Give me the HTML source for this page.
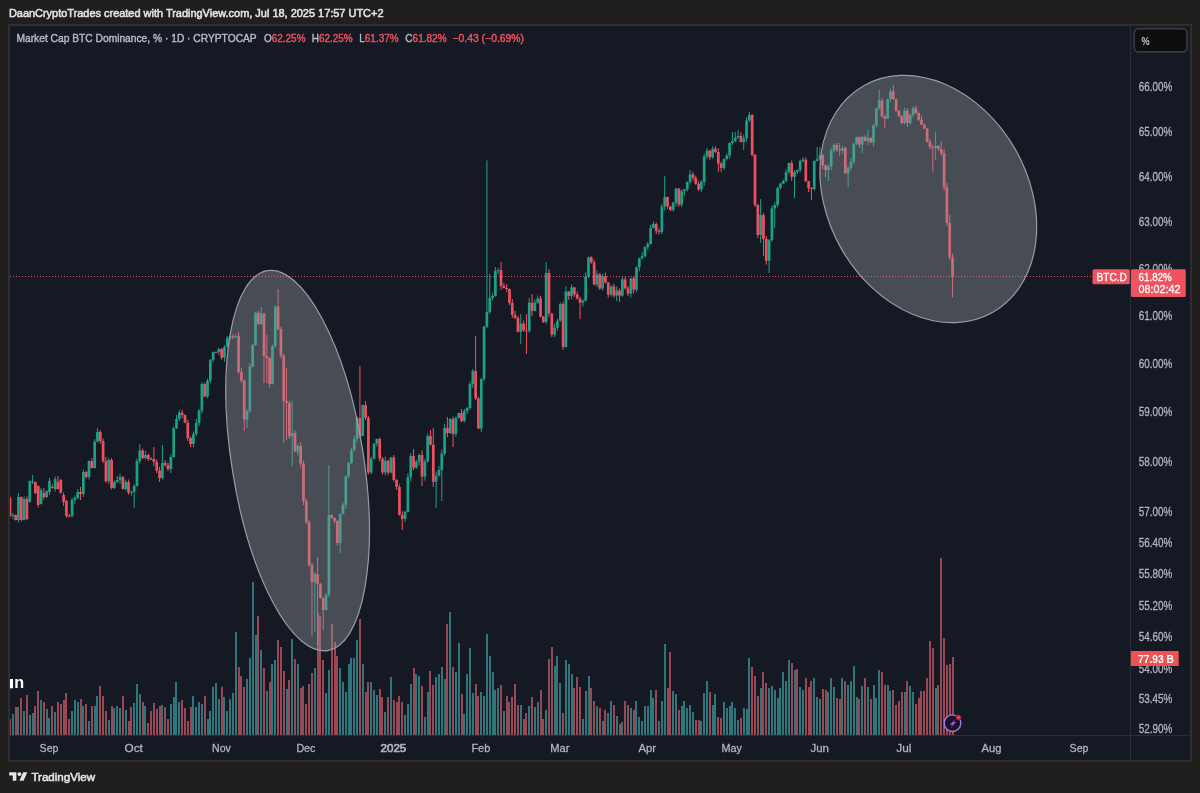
<!DOCTYPE html>
<html><head><meta charset="utf-8"><title>BTC.D</title>
<style>html,body{margin:0;padding:0;background:#201f1d;}body{width:1200px;height:793px;overflow:hidden;position:relative;font-family:'Liberation Sans',sans-serif}</style>
</head><body>
<svg width="1200" height="793" viewBox="0 0 1200 793" style="position:absolute;left:0;top:0;will-change:transform;font-family:'Liberation Sans',sans-serif"><rect x="0" y="0" width="1200" height="793" fill="#201f1d"/><rect x="8" y="24" width="1184" height="738" fill="#2f2f32"/><rect x="10" y="26" width="1180" height="734" fill="#151924"/><defs><clipPath id="pc"><rect x="10" y="26" width="1120" height="709"/></clipPath></defs><g clip-path="url(#pc)"><rect x="9" y="719" width="2" height="16" fill="#984854"/><rect x="12" y="714" width="2" height="21" fill="#2f7579"/><rect x="15" y="707" width="2" height="28" fill="#984854"/><rect x="17" y="707" width="2" height="28" fill="#2f7579"/><rect x="20" y="698" width="2" height="37" fill="#984854"/><rect x="23" y="711" width="2" height="24" fill="#2f7579"/><rect x="26" y="695" width="2" height="40" fill="#984854"/><rect x="29" y="715" width="2" height="20" fill="#2f7579"/><rect x="32" y="713" width="2" height="22" fill="#2f7579"/><rect x="34" y="706" width="2" height="29" fill="#984854"/><rect x="37" y="691" width="2" height="44" fill="#984854"/><rect x="40" y="700" width="2" height="35" fill="#2f7579"/><rect x="43" y="702" width="2" height="33" fill="#984854"/><rect x="46" y="709" width="2" height="26" fill="#2f7579"/><rect x="48" y="718" width="2" height="17" fill="#2f7579"/><rect x="51" y="706" width="2" height="29" fill="#984854"/><rect x="54" y="712" width="2" height="23" fill="#2f7579"/><rect x="57" y="702" width="2" height="33" fill="#984854"/><rect x="60" y="704" width="2" height="31" fill="#984854"/><rect x="63" y="700" width="2" height="35" fill="#984854"/><rect x="65" y="693" width="2" height="42" fill="#984854"/><rect x="68" y="719" width="2" height="16" fill="#984854"/><rect x="71" y="711" width="2" height="24" fill="#2f7579"/><rect x="74" y="700" width="2" height="35" fill="#2f7579"/><rect x="77" y="702" width="2" height="33" fill="#2f7579"/><rect x="80" y="699" width="2" height="36" fill="#984854"/><rect x="82" y="706" width="2" height="29" fill="#2f7579"/><rect x="85" y="704" width="2" height="31" fill="#984854"/><rect x="88" y="721" width="2" height="14" fill="#2f7579"/><rect x="91" y="706" width="2" height="29" fill="#984854"/><rect x="94" y="706" width="2" height="29" fill="#2f7579"/><rect x="96" y="696" width="2" height="39" fill="#2f7579"/><rect x="99" y="686" width="2" height="49" fill="#984854"/><rect x="102" y="696" width="2" height="39" fill="#984854"/><rect x="105" y="711" width="2" height="24" fill="#984854"/><rect x="108" y="720" width="2" height="15" fill="#2f7579"/><rect x="111" y="706" width="2" height="29" fill="#984854"/><rect x="113" y="708" width="2" height="27" fill="#2f7579"/><rect x="116" y="706" width="2" height="29" fill="#2f7579"/><rect x="119" y="708" width="2" height="27" fill="#2f7579"/><rect x="122" y="696" width="2" height="39" fill="#984854"/><rect x="125" y="710" width="2" height="25" fill="#2f7579"/><rect x="128" y="721" width="2" height="14" fill="#984854"/><rect x="130" y="707" width="2" height="28" fill="#984854"/><rect x="133" y="703" width="2" height="32" fill="#2f7579"/><rect x="136" y="684" width="2" height="51" fill="#2f7579"/><rect x="139" y="694" width="2" height="41" fill="#2f7579"/><rect x="142" y="702" width="2" height="33" fill="#984854"/><rect x="144" y="706" width="2" height="29" fill="#2f7579"/><rect x="147" y="723" width="2" height="12" fill="#984854"/><rect x="150" y="711" width="2" height="24" fill="#984854"/><rect x="153" y="703" width="2" height="32" fill="#984854"/><rect x="156" y="709" width="2" height="26" fill="#984854"/><rect x="159" y="706" width="2" height="29" fill="#984854"/><rect x="161" y="705" width="2" height="30" fill="#2f7579"/><rect x="164" y="707" width="2" height="28" fill="#984854"/><rect x="167" y="719" width="2" height="16" fill="#984854"/><rect x="170" y="704" width="2" height="31" fill="#2f7579"/><rect x="173" y="697" width="2" height="38" fill="#2f7579"/><rect x="175" y="682" width="2" height="53" fill="#2f7579"/><rect x="178" y="702" width="2" height="33" fill="#2f7579"/><rect x="181" y="700" width="2" height="35" fill="#984854"/><rect x="184" y="708" width="2" height="27" fill="#984854"/><rect x="187" y="721" width="2" height="14" fill="#984854"/><rect x="190" y="707" width="2" height="28" fill="#984854"/><rect x="192" y="696" width="2" height="39" fill="#2f7579"/><rect x="195" y="707" width="2" height="28" fill="#2f7579"/><rect x="198" y="702" width="2" height="33" fill="#2f7579"/><rect x="201" y="704" width="2" height="31" fill="#2f7579"/><rect x="204" y="696" width="2" height="39" fill="#984854"/><rect x="207" y="719" width="2" height="16" fill="#2f7579"/><rect x="209" y="711" width="2" height="24" fill="#2f7579"/><rect x="212" y="687" width="2" height="48" fill="#2f7579"/><rect x="215" y="683" width="2" height="52" fill="#2f7579"/><rect x="218" y="699" width="2" height="36" fill="#2f7579"/><rect x="221" y="687" width="2" height="48" fill="#984854"/><rect x="223" y="697" width="2" height="38" fill="#2f7579"/><rect x="226" y="711" width="2" height="24" fill="#2f7579"/><rect x="229" y="699" width="2" height="36" fill="#2f7579"/><rect x="232" y="693" width="2" height="42" fill="#2f7579"/><rect x="235" y="632" width="2" height="103" fill="#2f7579"/><rect x="238" y="667" width="2" height="68" fill="#984854"/><rect x="240" y="676" width="2" height="59" fill="#984854"/><rect x="243" y="687" width="2" height="48" fill="#984854"/><rect x="246" y="679" width="2" height="56" fill="#2f7579"/><rect x="249" y="658" width="2" height="77" fill="#2f7579"/><rect x="252" y="582" width="2" height="153" fill="#2f7579"/><rect x="255" y="635" width="2" height="100" fill="#2f7579"/><rect x="257" y="616" width="2" height="119" fill="#984854"/><rect x="260" y="650" width="2" height="85" fill="#2f7579"/><rect x="263" y="668" width="2" height="67" fill="#984854"/><rect x="266" y="691" width="2" height="44" fill="#2f7579"/><rect x="269" y="682" width="2" height="53" fill="#984854"/><rect x="271" y="664" width="2" height="71" fill="#2f7579"/><rect x="274" y="660" width="2" height="75" fill="#2f7579"/><rect x="277" y="640" width="2" height="95" fill="#984854"/><rect x="280" y="647" width="2" height="88" fill="#984854"/><rect x="283" y="671" width="2" height="64" fill="#984854"/><rect x="286" y="689" width="2" height="46" fill="#2f7579"/><rect x="288" y="680" width="2" height="55" fill="#984854"/><rect x="291" y="639" width="2" height="96" fill="#2f7579"/><rect x="294" y="659" width="2" height="76" fill="#984854"/><rect x="297" y="664" width="2" height="71" fill="#2f7579"/><rect x="300" y="688" width="2" height="47" fill="#984854"/><rect x="302" y="686" width="2" height="49" fill="#984854"/><rect x="305" y="704" width="2" height="31" fill="#984854"/><rect x="308" y="684" width="2" height="51" fill="#984854"/><rect x="311" y="673" width="2" height="62" fill="#984854"/><rect x="314" y="668" width="2" height="67" fill="#2f7579"/><rect x="317" y="613" width="2" height="122" fill="#984854"/><rect x="319" y="616" width="2" height="119" fill="#984854"/><rect x="322" y="660" width="2" height="75" fill="#984854"/><rect x="325" y="693" width="2" height="42" fill="#2f7579"/><rect x="328" y="670" width="2" height="65" fill="#2f7579"/><rect x="331" y="624" width="2" height="111" fill="#984854"/><rect x="334" y="642" width="2" height="93" fill="#984854"/><rect x="336" y="656" width="2" height="79" fill="#984854"/><rect x="339" y="668" width="2" height="67" fill="#2f7579"/><rect x="342" y="682" width="2" height="53" fill="#2f7579"/><rect x="345" y="692" width="2" height="43" fill="#2f7579"/><rect x="348" y="664" width="2" height="71" fill="#2f7579"/><rect x="350" y="658" width="2" height="77" fill="#2f7579"/><rect x="353" y="658" width="2" height="77" fill="#2f7579"/><rect x="356" y="640" width="2" height="95" fill="#2f7579"/><rect x="359" y="619" width="2" height="116" fill="#984854"/><rect x="362" y="664" width="2" height="71" fill="#2f7579"/><rect x="365" y="692" width="2" height="43" fill="#984854"/><rect x="367" y="682" width="2" height="53" fill="#984854"/><rect x="370" y="682" width="2" height="53" fill="#2f7579"/><rect x="373" y="690" width="2" height="45" fill="#2f7579"/><rect x="376" y="695" width="2" height="40" fill="#2f7579"/><rect x="379" y="689" width="2" height="46" fill="#984854"/><rect x="381" y="697" width="2" height="38" fill="#984854"/><rect x="384" y="712" width="2" height="23" fill="#2f7579"/><rect x="387" y="697" width="2" height="38" fill="#984854"/><rect x="390" y="677" width="2" height="58" fill="#2f7579"/><rect x="393" y="700" width="2" height="35" fill="#984854"/><rect x="396" y="702" width="2" height="33" fill="#984854"/><rect x="398" y="696" width="2" height="39" fill="#984854"/><rect x="401" y="702" width="2" height="33" fill="#984854"/><rect x="404" y="715" width="2" height="20" fill="#2f7579"/><rect x="407" y="704" width="2" height="31" fill="#2f7579"/><rect x="410" y="684" width="2" height="51" fill="#2f7579"/><rect x="413" y="668" width="2" height="67" fill="#984854"/><rect x="415" y="674" width="2" height="61" fill="#2f7579"/><rect x="418" y="676" width="2" height="59" fill="#2f7579"/><rect x="421" y="686" width="2" height="49" fill="#984854"/><rect x="424" y="717" width="2" height="18" fill="#2f7579"/><rect x="427" y="692" width="2" height="43" fill="#2f7579"/><rect x="429" y="671" width="2" height="64" fill="#984854"/><rect x="432" y="685" width="2" height="50" fill="#984854"/><rect x="435" y="677" width="2" height="58" fill="#2f7579"/><rect x="438" y="674" width="2" height="61" fill="#2f7579"/><rect x="441" y="667" width="2" height="68" fill="#2f7579"/><rect x="444" y="679" width="2" height="56" fill="#2f7579"/><rect x="446" y="624" width="2" height="111" fill="#984854"/><rect x="449" y="612" width="2" height="123" fill="#2f7579"/><rect x="452" y="667" width="2" height="68" fill="#984854"/><rect x="455" y="672" width="2" height="63" fill="#2f7579"/><rect x="458" y="643" width="2" height="92" fill="#2f7579"/><rect x="461" y="694" width="2" height="41" fill="#984854"/><rect x="463" y="714" width="2" height="21" fill="#2f7579"/><rect x="466" y="674" width="2" height="61" fill="#2f7579"/><rect x="469" y="648" width="2" height="87" fill="#2f7579"/><rect x="472" y="693" width="2" height="42" fill="#2f7579"/><rect x="475" y="684" width="2" height="51" fill="#984854"/><rect x="477" y="696" width="2" height="39" fill="#984854"/><rect x="480" y="692" width="2" height="43" fill="#2f7579"/><rect x="483" y="696" width="2" height="39" fill="#2f7579"/><rect x="486" y="634" width="2" height="101" fill="#2f7579"/><rect x="489" y="656" width="2" height="79" fill="#2f7579"/><rect x="492" y="672" width="2" height="63" fill="#2f7579"/><rect x="494" y="690" width="2" height="45" fill="#2f7579"/><rect x="497" y="688" width="2" height="47" fill="#2f7579"/><rect x="500" y="685" width="2" height="50" fill="#984854"/><rect x="503" y="711" width="2" height="24" fill="#2f7579"/><rect x="506" y="696" width="2" height="39" fill="#984854"/><rect x="508" y="702" width="2" height="33" fill="#984854"/><rect x="511" y="697" width="2" height="38" fill="#984854"/><rect x="514" y="684" width="2" height="51" fill="#984854"/><rect x="517" y="705" width="2" height="30" fill="#984854"/><rect x="520" y="705" width="2" height="30" fill="#2f7579"/><rect x="523" y="719" width="2" height="16" fill="#984854"/><rect x="525" y="713" width="2" height="22" fill="#984854"/><rect x="528" y="706" width="2" height="29" fill="#2f7579"/><rect x="531" y="697" width="2" height="38" fill="#984854"/><rect x="534" y="707" width="2" height="28" fill="#2f7579"/><rect x="537" y="702" width="2" height="33" fill="#2f7579"/><rect x="540" y="690" width="2" height="45" fill="#984854"/><rect x="542" y="719" width="2" height="16" fill="#984854"/><rect x="545" y="710" width="2" height="25" fill="#2f7579"/><rect x="548" y="659" width="2" height="76" fill="#984854"/><rect x="551" y="647" width="2" height="88" fill="#984854"/><rect x="554" y="666" width="2" height="69" fill="#2f7579"/><rect x="556" y="656" width="2" height="79" fill="#2f7579"/><rect x="559" y="683" width="2" height="52" fill="#2f7579"/><rect x="562" y="713" width="2" height="22" fill="#984854"/><rect x="565" y="660" width="2" height="75" fill="#2f7579"/><rect x="568" y="664" width="2" height="71" fill="#2f7579"/><rect x="571" y="674" width="2" height="61" fill="#2f7579"/><rect x="573" y="688" width="2" height="47" fill="#984854"/><rect x="576" y="677" width="2" height="58" fill="#984854"/><rect x="579" y="687" width="2" height="48" fill="#984854"/><rect x="582" y="719" width="2" height="16" fill="#2f7579"/><rect x="585" y="691" width="2" height="44" fill="#2f7579"/><rect x="588" y="676" width="2" height="59" fill="#2f7579"/><rect x="590" y="688" width="2" height="47" fill="#984854"/><rect x="593" y="701" width="2" height="34" fill="#984854"/><rect x="596" y="706" width="2" height="29" fill="#2f7579"/><rect x="599" y="708" width="2" height="27" fill="#984854"/><rect x="602" y="721" width="2" height="14" fill="#2f7579"/><rect x="604" y="710" width="2" height="25" fill="#984854"/><rect x="607" y="713" width="2" height="22" fill="#2f7579"/><rect x="610" y="701" width="2" height="34" fill="#2f7579"/><rect x="613" y="705" width="2" height="30" fill="#984854"/><rect x="616" y="716" width="2" height="19" fill="#2f7579"/><rect x="619" y="724" width="2" height="11" fill="#984854"/><rect x="621" y="722" width="2" height="13" fill="#2f7579"/><rect x="624" y="701" width="2" height="34" fill="#984854"/><rect x="627" y="705" width="2" height="30" fill="#984854"/><rect x="630" y="708" width="2" height="27" fill="#2f7579"/><rect x="633" y="710" width="2" height="25" fill="#984854"/><rect x="635" y="701" width="2" height="34" fill="#2f7579"/><rect x="638" y="717" width="2" height="18" fill="#2f7579"/><rect x="641" y="721" width="2" height="14" fill="#2f7579"/><rect x="644" y="706" width="2" height="29" fill="#2f7579"/><rect x="647" y="706" width="2" height="29" fill="#2f7579"/><rect x="650" y="690" width="2" height="45" fill="#2f7579"/><rect x="652" y="698" width="2" height="37" fill="#2f7579"/><rect x="655" y="690" width="2" height="45" fill="#984854"/><rect x="658" y="721" width="2" height="14" fill="#2f7579"/><rect x="661" y="701" width="2" height="34" fill="#2f7579"/><rect x="664" y="644" width="2" height="91" fill="#2f7579"/><rect x="667" y="688" width="2" height="47" fill="#984854"/><rect x="669" y="652" width="2" height="83" fill="#984854"/><rect x="672" y="691" width="2" height="44" fill="#2f7579"/><rect x="675" y="694" width="2" height="41" fill="#2f7579"/><rect x="678" y="710" width="2" height="25" fill="#984854"/><rect x="681" y="706" width="2" height="29" fill="#2f7579"/><rect x="683" y="701" width="2" height="34" fill="#2f7579"/><rect x="686" y="708" width="2" height="27" fill="#2f7579"/><rect x="689" y="705" width="2" height="30" fill="#2f7579"/><rect x="692" y="712" width="2" height="23" fill="#2f7579"/><rect x="695" y="720" width="2" height="15" fill="#984854"/><rect x="698" y="720" width="2" height="15" fill="#984854"/><rect x="700" y="721" width="2" height="14" fill="#2f7579"/><rect x="703" y="693" width="2" height="42" fill="#2f7579"/><rect x="706" y="681" width="2" height="54" fill="#2f7579"/><rect x="709" y="692" width="2" height="43" fill="#984854"/><rect x="712" y="705" width="2" height="30" fill="#2f7579"/><rect x="714" y="694" width="2" height="41" fill="#2f7579"/><rect x="717" y="717" width="2" height="18" fill="#984854"/><rect x="720" y="718" width="2" height="17" fill="#984854"/><rect x="723" y="702" width="2" height="33" fill="#2f7579"/><rect x="726" y="708" width="2" height="27" fill="#2f7579"/><rect x="729" y="706" width="2" height="29" fill="#2f7579"/><rect x="731" y="702" width="2" height="33" fill="#2f7579"/><rect x="734" y="708" width="2" height="27" fill="#2f7579"/><rect x="737" y="720" width="2" height="15" fill="#2f7579"/><rect x="740" y="718" width="2" height="17" fill="#984854"/><rect x="743" y="708" width="2" height="27" fill="#2f7579"/><rect x="746" y="709" width="2" height="26" fill="#2f7579"/><rect x="748" y="658" width="2" height="77" fill="#2f7579"/><rect x="751" y="667" width="2" height="68" fill="#984854"/><rect x="754" y="676" width="2" height="59" fill="#984854"/><rect x="757" y="696" width="2" height="39" fill="#984854"/><rect x="760" y="688" width="2" height="47" fill="#2f7579"/><rect x="762" y="672" width="2" height="63" fill="#984854"/><rect x="765" y="683" width="2" height="52" fill="#984854"/><rect x="768" y="688" width="2" height="47" fill="#2f7579"/><rect x="771" y="686" width="2" height="49" fill="#2f7579"/><rect x="774" y="690" width="2" height="45" fill="#2f7579"/><rect x="777" y="698" width="2" height="37" fill="#2f7579"/><rect x="779" y="688" width="2" height="47" fill="#2f7579"/><rect x="782" y="672" width="2" height="63" fill="#2f7579"/><rect x="785" y="681" width="2" height="54" fill="#2f7579"/><rect x="788" y="660" width="2" height="75" fill="#2f7579"/><rect x="791" y="663" width="2" height="72" fill="#984854"/><rect x="794" y="670" width="2" height="65" fill="#2f7579"/><rect x="796" y="669" width="2" height="66" fill="#984854"/><rect x="799" y="687" width="2" height="48" fill="#2f7579"/><rect x="802" y="690" width="2" height="45" fill="#2f7579"/><rect x="805" y="678" width="2" height="57" fill="#984854"/><rect x="808" y="687" width="2" height="48" fill="#984854"/><rect x="810" y="681" width="2" height="54" fill="#984854"/><rect x="813" y="678" width="2" height="57" fill="#2f7579"/><rect x="816" y="697" width="2" height="38" fill="#2f7579"/><rect x="819" y="699" width="2" height="36" fill="#2f7579"/><rect x="822" y="689" width="2" height="46" fill="#984854"/><rect x="825" y="690" width="2" height="45" fill="#984854"/><rect x="827" y="692" width="2" height="43" fill="#2f7579"/><rect x="830" y="678" width="2" height="57" fill="#2f7579"/><rect x="833" y="687" width="2" height="48" fill="#2f7579"/><rect x="836" y="698" width="2" height="37" fill="#984854"/><rect x="839" y="699" width="2" height="36" fill="#984854"/><rect x="841" y="678" width="2" height="57" fill="#2f7579"/><rect x="844" y="681" width="2" height="54" fill="#984854"/><rect x="847" y="685" width="2" height="50" fill="#2f7579"/><rect x="850" y="681" width="2" height="54" fill="#2f7579"/><rect x="853" y="666" width="2" height="69" fill="#2f7579"/><rect x="856" y="697" width="2" height="38" fill="#2f7579"/><rect x="858" y="699" width="2" height="36" fill="#984854"/><rect x="861" y="686" width="2" height="49" fill="#2f7579"/><rect x="864" y="678" width="2" height="57" fill="#984854"/><rect x="867" y="687" width="2" height="48" fill="#2f7579"/><rect x="870" y="699" width="2" height="36" fill="#984854"/><rect x="873" y="685" width="2" height="50" fill="#2f7579"/><rect x="875" y="698" width="2" height="37" fill="#2f7579"/><rect x="878" y="670" width="2" height="65" fill="#2f7579"/><rect x="881" y="672" width="2" height="63" fill="#984854"/><rect x="884" y="685" width="2" height="50" fill="#984854"/><rect x="887" y="685" width="2" height="50" fill="#2f7579"/><rect x="889" y="691" width="2" height="44" fill="#2f7579"/><rect x="892" y="690" width="2" height="45" fill="#984854"/><rect x="895" y="705" width="2" height="30" fill="#984854"/><rect x="898" y="701" width="2" height="34" fill="#984854"/><rect x="901" y="692" width="2" height="43" fill="#984854"/><rect x="904" y="692" width="2" height="43" fill="#2f7579"/><rect x="906" y="681" width="2" height="54" fill="#984854"/><rect x="909" y="686" width="2" height="49" fill="#2f7579"/><rect x="912" y="692" width="2" height="43" fill="#2f7579"/><rect x="915" y="704" width="2" height="31" fill="#984854"/><rect x="918" y="698" width="2" height="37" fill="#984854"/><rect x="920" y="691" width="2" height="44" fill="#984854"/><rect x="923" y="691" width="2" height="44" fill="#984854"/><rect x="926" y="678" width="2" height="57" fill="#984854"/><rect x="929" y="641" width="2" height="94" fill="#984854"/><rect x="932" y="648" width="2" height="87" fill="#984854"/><rect x="935" y="688" width="2" height="47" fill="#2f7579"/><rect x="937" y="685" width="2" height="50" fill="#984854"/><rect x="940" y="558" width="2" height="177" fill="#984854"/><rect x="943" y="638" width="2" height="97" fill="#984854"/><rect x="946" y="665" width="2" height="70" fill="#984854"/><rect x="949" y="664" width="2" height="71" fill="#984854"/><rect x="952" y="657" width="2" height="78" fill="#984854"/><line x1="10" y1="276.5" x2="1130" y2="276.5" stroke="#ef5060" stroke-width="1" stroke-dasharray="1 2"/><rect x="9.49" y="496.5" width="1" height="20.5" fill="#ef5060"/><rect x="8.64" y="498.0" width="2.7" height="18.0" fill="#ef5060"/><rect x="12.31" y="513.0" width="1" height="6.0" fill="#1ba188"/><rect x="11.46" y="515.0" width="2.7" height="1.0" fill="#1ba188"/><rect x="15.14" y="514.5" width="1" height="6.0" fill="#ef5060"/><rect x="14.29" y="515.0" width="2.7" height="5.0" fill="#ef5060"/><rect x="17.96" y="493.0" width="1" height="29.5" fill="#1ba188"/><rect x="17.11" y="497.0" width="2.7" height="23.0" fill="#1ba188"/><rect x="20.78" y="496.5" width="1" height="25.0" fill="#ef5060"/><rect x="19.93" y="497.0" width="2.7" height="23.0" fill="#ef5060"/><rect x="23.60" y="496.5" width="1" height="24.0" fill="#1ba188"/><rect x="22.75" y="499.0" width="2.7" height="21.0" fill="#1ba188"/><rect x="26.42" y="496.5" width="1" height="23.5" fill="#ef5060"/><rect x="25.57" y="499.0" width="2.7" height="20.0" fill="#ef5060"/><rect x="29.25" y="480.5" width="1" height="22.0" fill="#1ba188"/><rect x="28.40" y="481.0" width="2.7" height="21.0" fill="#1ba188"/><rect x="32.07" y="475.0" width="1" height="9.0" fill="#1ba188"/><rect x="31.22" y="481.5" width="2.7" height="1.0" fill="#1ba188"/><rect x="34.89" y="481.5" width="1" height="12.5" fill="#ef5060"/><rect x="34.04" y="482.0" width="2.7" height="11.0" fill="#ef5060"/><rect x="37.71" y="485.5" width="1" height="22.0" fill="#ef5060"/><rect x="36.86" y="486.0" width="2.7" height="19.0" fill="#ef5060"/><rect x="40.53" y="488.0" width="1" height="16.5" fill="#1ba188"/><rect x="39.68" y="490.0" width="2.7" height="14.0" fill="#1ba188"/><rect x="43.36" y="488.0" width="1" height="11.5" fill="#ef5060"/><rect x="42.51" y="493.0" width="2.7" height="4.0" fill="#ef5060"/><rect x="46.18" y="490.5" width="1" height="7.5" fill="#1ba188"/><rect x="45.33" y="491.0" width="2.7" height="6.0" fill="#1ba188"/><rect x="49.00" y="478.0" width="1" height="17.0" fill="#1ba188"/><rect x="48.15" y="481.0" width="2.7" height="11.0" fill="#1ba188"/><rect x="51.82" y="484.5" width="1" height="4.0" fill="#ef5060"/><rect x="50.97" y="487.0" width="2.7" height="1.0" fill="#ef5060"/><rect x="54.64" y="476.5" width="1" height="15.0" fill="#1ba188"/><rect x="53.79" y="479.0" width="2.7" height="10.0" fill="#1ba188"/><rect x="57.47" y="476.0" width="1" height="13.5" fill="#ef5060"/><rect x="56.62" y="482.0" width="2.7" height="7.0" fill="#ef5060"/><rect x="60.29" y="479.0" width="1" height="14.5" fill="#ef5060"/><rect x="59.44" y="480.0" width="2.7" height="13.0" fill="#ef5060"/><rect x="63.11" y="492.5" width="1" height="13.5" fill="#ef5060"/><rect x="62.26" y="495.0" width="2.7" height="7.0" fill="#ef5060"/><rect x="65.93" y="500.0" width="1" height="17.5" fill="#ef5060"/><rect x="65.08" y="501.0" width="2.7" height="15.0" fill="#ef5060"/><rect x="68.75" y="514.0" width="1" height="3.0" fill="#ef5060"/><rect x="67.90" y="516.0" width="2.7" height="1.0" fill="#ef5060"/><rect x="71.58" y="497.5" width="1" height="20.0" fill="#1ba188"/><rect x="70.73" y="500.0" width="2.7" height="16.0" fill="#1ba188"/><rect x="74.40" y="495.5" width="1" height="8.5" fill="#1ba188"/><rect x="73.55" y="498.0" width="2.7" height="2.0" fill="#1ba188"/><rect x="77.22" y="489.0" width="1" height="10.0" fill="#1ba188"/><rect x="76.37" y="492.0" width="2.7" height="6.0" fill="#1ba188"/><rect x="80.04" y="487.0" width="1" height="13.0" fill="#ef5060"/><rect x="79.19" y="492.0" width="2.7" height="2.0" fill="#ef5060"/><rect x="82.86" y="469.5" width="1" height="27.5" fill="#1ba188"/><rect x="82.01" y="472.0" width="2.7" height="22.0" fill="#1ba188"/><rect x="85.69" y="471.0" width="1" height="7.5" fill="#ef5060"/><rect x="84.84" y="472.0" width="2.7" height="5.0" fill="#ef5060"/><rect x="88.51" y="460.5" width="1" height="19.0" fill="#1ba188"/><rect x="87.66" y="461.0" width="2.7" height="16.0" fill="#1ba188"/><rect x="91.33" y="458.0" width="1" height="10.5" fill="#ef5060"/><rect x="90.48" y="461.0" width="2.7" height="7.0" fill="#ef5060"/><rect x="94.15" y="439.1" width="1" height="29.4" fill="#1ba188"/><rect x="93.30" y="441.6" width="2.7" height="26.4" fill="#1ba188"/><rect x="96.97" y="428.0" width="1" height="14.6" fill="#1ba188"/><rect x="96.12" y="432.0" width="2.7" height="9.6" fill="#1ba188"/><rect x="99.80" y="430.0" width="1" height="14.0" fill="#ef5060"/><rect x="98.95" y="432.0" width="2.7" height="9.0" fill="#ef5060"/><rect x="102.62" y="438.5" width="1" height="24.5" fill="#ef5060"/><rect x="101.77" y="441.0" width="2.7" height="20.0" fill="#ef5060"/><rect x="105.44" y="457.0" width="1" height="25.8" fill="#ef5060"/><rect x="104.59" y="461.0" width="2.7" height="20.3" fill="#ef5060"/><rect x="108.26" y="458.0" width="1" height="25.8" fill="#1ba188"/><rect x="107.41" y="460.0" width="2.7" height="21.3" fill="#1ba188"/><rect x="111.08" y="458.0" width="1" height="31.5" fill="#ef5060"/><rect x="110.23" y="460.0" width="2.7" height="28.0" fill="#ef5060"/><rect x="113.91" y="480.5" width="1" height="8.5" fill="#1ba188"/><rect x="113.06" y="482.0" width="2.7" height="6.0" fill="#1ba188"/><rect x="116.73" y="476.0" width="1" height="7.0" fill="#1ba188"/><rect x="115.88" y="480.0" width="2.7" height="2.0" fill="#1ba188"/><rect x="119.55" y="474.0" width="1" height="10.0" fill="#1ba188"/><rect x="118.70" y="477.0" width="2.7" height="3.0" fill="#1ba188"/><rect x="122.37" y="476.0" width="1" height="13.5" fill="#ef5060"/><rect x="121.52" y="477.0" width="2.7" height="12.0" fill="#ef5060"/><rect x="125.19" y="479.5" width="1" height="11.0" fill="#1ba188"/><rect x="124.34" y="482.0" width="2.7" height="7.0" fill="#1ba188"/><rect x="128.02" y="479.5" width="1" height="15.1" fill="#ef5060"/><rect x="127.17" y="482.0" width="2.7" height="10.6" fill="#ef5060"/><rect x="130.84" y="490.5" width="1" height="5.1" fill="#1ba188"/><rect x="129.99" y="492.0" width="2.7" height="1.0" fill="#1ba188"/><rect x="133.66" y="484.0" width="1" height="24.0" fill="#1ba188"/><rect x="132.81" y="486.0" width="2.7" height="6.0" fill="#1ba188"/><rect x="136.48" y="458.5" width="1" height="28.0" fill="#1ba188"/><rect x="135.63" y="461.0" width="2.7" height="25.0" fill="#1ba188"/><rect x="139.30" y="444.0" width="1" height="19.5" fill="#1ba188"/><rect x="138.45" y="450.5" width="2.7" height="10.5" fill="#1ba188"/><rect x="142.13" y="448.5" width="1" height="10.5" fill="#ef5060"/><rect x="141.28" y="450.5" width="2.7" height="7.5" fill="#ef5060"/><rect x="144.95" y="451.0" width="1" height="8.5" fill="#1ba188"/><rect x="144.10" y="455.0" width="2.7" height="3.0" fill="#1ba188"/><rect x="147.77" y="454.0" width="1" height="7.0" fill="#ef5060"/><rect x="146.92" y="455.0" width="2.7" height="4.0" fill="#ef5060"/><rect x="150.59" y="457.0" width="1" height="2.5" fill="#ef5060"/><rect x="149.74" y="459.0" width="2.7" height="1.0" fill="#ef5060"/><rect x="153.41" y="447.0" width="1" height="19.0" fill="#ef5060"/><rect x="152.56" y="459.0" width="2.7" height="3.0" fill="#ef5060"/><rect x="156.24" y="459.5" width="1" height="13.7" fill="#ef5060"/><rect x="155.39" y="462.0" width="2.7" height="8.7" fill="#ef5060"/><rect x="159.06" y="466.7" width="1" height="15.3" fill="#ef5060"/><rect x="158.21" y="470.7" width="2.7" height="7.3" fill="#ef5060"/><rect x="161.88" y="445.0" width="1" height="34.5" fill="#1ba188"/><rect x="161.03" y="463.0" width="2.7" height="15.0" fill="#1ba188"/><rect x="164.70" y="460.0" width="1" height="6.5" fill="#ef5060"/><rect x="163.85" y="463.0" width="2.7" height="2.0" fill="#ef5060"/><rect x="167.52" y="462.5" width="1" height="8.5" fill="#ef5060"/><rect x="166.67" y="465.0" width="2.7" height="4.0" fill="#ef5060"/><rect x="170.35" y="454.5" width="1" height="18.5" fill="#1ba188"/><rect x="169.50" y="457.0" width="2.7" height="12.0" fill="#1ba188"/><rect x="173.17" y="426.4" width="1" height="31.1" fill="#1ba188"/><rect x="172.32" y="428.4" width="2.7" height="28.6" fill="#1ba188"/><rect x="175.99" y="415.0" width="1" height="13.9" fill="#1ba188"/><rect x="175.14" y="419.0" width="2.7" height="9.4" fill="#1ba188"/><rect x="178.81" y="410.0" width="1" height="11.0" fill="#1ba188"/><rect x="177.96" y="412.6" width="2.7" height="6.4" fill="#1ba188"/><rect x="181.63" y="409.6" width="1" height="8.4" fill="#ef5060"/><rect x="180.78" y="412.6" width="2.7" height="2.4" fill="#ef5060"/><rect x="184.46" y="414.5" width="1" height="8.7" fill="#ef5060"/><rect x="183.61" y="415.0" width="2.7" height="7.7" fill="#ef5060"/><rect x="187.28" y="419.7" width="1" height="21.3" fill="#ef5060"/><rect x="186.43" y="422.7" width="2.7" height="15.3" fill="#ef5060"/><rect x="190.10" y="436.5" width="1" height="10.5" fill="#ef5060"/><rect x="189.25" y="438.0" width="2.7" height="6.0" fill="#ef5060"/><rect x="192.92" y="431.5" width="1" height="15.5" fill="#1ba188"/><rect x="192.07" y="434.0" width="2.7" height="10.0" fill="#1ba188"/><rect x="195.74" y="419.0" width="1" height="17.0" fill="#1ba188"/><rect x="194.89" y="423.0" width="2.7" height="11.0" fill="#1ba188"/><rect x="198.57" y="409.2" width="1" height="16.8" fill="#1ba188"/><rect x="197.72" y="410.7" width="2.7" height="12.3" fill="#1ba188"/><rect x="201.39" y="382.0" width="1" height="31.7" fill="#1ba188"/><rect x="200.54" y="384.0" width="2.7" height="26.7" fill="#1ba188"/><rect x="204.21" y="382.5" width="1" height="14.5" fill="#ef5060"/><rect x="203.36" y="384.0" width="2.7" height="12.5" fill="#ef5060"/><rect x="207.03" y="378.6" width="1" height="19.4" fill="#1ba188"/><rect x="206.18" y="380.6" width="2.7" height="15.9" fill="#1ba188"/><rect x="209.85" y="359.0" width="1" height="24.1" fill="#1ba188"/><rect x="209.00" y="360.0" width="2.7" height="20.6" fill="#1ba188"/><rect x="212.68" y="351.5" width="1" height="10.5" fill="#1ba188"/><rect x="211.83" y="352.0" width="2.7" height="8.0" fill="#1ba188"/><rect x="215.50" y="351.5" width="1" height="1.5" fill="#ef5060"/><rect x="214.65" y="352.0" width="2.7" height="1.0" fill="#ef5060"/><rect x="218.32" y="348.0" width="1" height="7.0" fill="#1ba188"/><rect x="217.47" y="349.0" width="2.7" height="3.0" fill="#1ba188"/><rect x="221.14" y="348.0" width="1" height="11.7" fill="#ef5060"/><rect x="220.29" y="349.0" width="2.7" height="8.7" fill="#ef5060"/><rect x="223.96" y="345.0" width="1" height="16.7" fill="#1ba188"/><rect x="223.11" y="347.0" width="2.7" height="10.7" fill="#1ba188"/><rect x="226.79" y="336.0" width="1" height="11.5" fill="#1ba188"/><rect x="225.94" y="338.0" width="2.7" height="9.0" fill="#1ba188"/><rect x="229.61" y="335.5" width="1" height="4.5" fill="#1ba188"/><rect x="228.76" y="336.5" width="2.7" height="1.5" fill="#1ba188"/><rect x="232.43" y="334.5" width="1" height="5.0" fill="#ef5060"/><rect x="231.58" y="336.5" width="2.7" height="1.0" fill="#ef5060"/><rect x="235.25" y="334.5" width="1" height="3.5" fill="#1ba188"/><rect x="234.40" y="336.0" width="2.7" height="1.0" fill="#1ba188"/><rect x="238.07" y="332.0" width="1" height="41.8" fill="#ef5060"/><rect x="237.22" y="336.0" width="2.7" height="35.8" fill="#ef5060"/><rect x="240.90" y="367.8" width="1" height="15.3" fill="#ef5060"/><rect x="240.05" y="371.8" width="2.7" height="8.8" fill="#ef5060"/><rect x="243.72" y="379.1" width="1" height="51.9" fill="#ef5060"/><rect x="242.87" y="380.6" width="2.7" height="38.9" fill="#ef5060"/><rect x="246.54" y="409.0" width="1" height="19.0" fill="#1ba188"/><rect x="245.69" y="411.0" width="2.7" height="8.5" fill="#1ba188"/><rect x="249.36" y="363.5" width="1" height="49.5" fill="#1ba188"/><rect x="248.51" y="366.5" width="2.7" height="44.5" fill="#1ba188"/><rect x="252.18" y="344.0" width="1" height="23.5" fill="#1ba188"/><rect x="251.33" y="345.0" width="2.7" height="21.5" fill="#1ba188"/><rect x="255.01" y="312.2" width="1" height="33.8" fill="#1ba188"/><rect x="254.16" y="312.7" width="2.7" height="32.3" fill="#1ba188"/><rect x="257.83" y="311.0" width="1" height="14.0" fill="#ef5060"/><rect x="256.98" y="312.7" width="2.7" height="11.3" fill="#ef5060"/><rect x="260.65" y="307.0" width="1" height="18.0" fill="#1ba188"/><rect x="259.80" y="313.5" width="2.7" height="10.5" fill="#1ba188"/><rect x="263.47" y="313.0" width="1" height="70.0" fill="#ef5060"/><rect x="262.62" y="313.5" width="2.7" height="42.5" fill="#ef5060"/><rect x="266.29" y="335.0" width="1" height="48.0" fill="#ef5060"/><rect x="265.44" y="356.0" width="2.7" height="2.0" fill="#ef5060"/><rect x="269.12" y="357.0" width="1" height="31.0" fill="#ef5060"/><rect x="268.27" y="358.0" width="2.7" height="26.0" fill="#ef5060"/><rect x="271.94" y="344.5" width="1" height="40.0" fill="#1ba188"/><rect x="271.09" y="346.0" width="2.7" height="38.0" fill="#1ba188"/><rect x="274.76" y="305.5" width="1" height="42.5" fill="#1ba188"/><rect x="273.91" y="306.5" width="2.7" height="39.5" fill="#1ba188"/><rect x="277.58" y="289.0" width="1" height="41.5" fill="#ef5060"/><rect x="276.73" y="306.5" width="2.7" height="22.5" fill="#ef5060"/><rect x="280.40" y="326.5" width="1" height="31.7" fill="#ef5060"/><rect x="279.55" y="329.0" width="2.7" height="26.7" fill="#ef5060"/><rect x="283.23" y="354.2" width="1" height="88.8" fill="#ef5060"/><rect x="282.38" y="355.7" width="2.7" height="45.3" fill="#ef5060"/><rect x="286.05" y="368.0" width="1" height="72.0" fill="#ef5060"/><rect x="285.20" y="401.0" width="2.7" height="2.0" fill="#ef5060"/><rect x="288.87" y="400.5" width="1" height="38.4" fill="#ef5060"/><rect x="288.02" y="403.0" width="2.7" height="33.4" fill="#ef5060"/><rect x="291.69" y="401.0" width="1" height="65.0" fill="#1ba188"/><rect x="290.84" y="433.0" width="2.7" height="3.4" fill="#1ba188"/><rect x="294.51" y="430.0" width="1" height="22.0" fill="#ef5060"/><rect x="293.66" y="433.0" width="2.7" height="18.5" fill="#ef5060"/><rect x="297.34" y="444.0" width="1" height="11.5" fill="#1ba188"/><rect x="296.49" y="446.0" width="2.7" height="5.5" fill="#1ba188"/><rect x="300.16" y="442.0" width="1" height="25.5" fill="#ef5060"/><rect x="299.31" y="446.0" width="2.7" height="17.5" fill="#ef5060"/><rect x="302.98" y="460.5" width="1" height="44.5" fill="#ef5060"/><rect x="302.13" y="463.5" width="2.7" height="37.5" fill="#ef5060"/><rect x="305.80" y="498.5" width="1" height="25.5" fill="#ef5060"/><rect x="304.95" y="501.0" width="2.7" height="21.0" fill="#ef5060"/><rect x="308.62" y="520.0" width="1" height="47.0" fill="#ef5060"/><rect x="307.77" y="522.0" width="2.7" height="43.0" fill="#ef5060"/><rect x="311.45" y="563.0" width="1" height="73.0" fill="#ef5060"/><rect x="310.60" y="565.0" width="2.7" height="17.0" fill="#ef5060"/><rect x="314.27" y="572.0" width="1" height="60.0" fill="#1ba188"/><rect x="313.42" y="574.0" width="2.7" height="8.0" fill="#1ba188"/><rect x="317.09" y="557.0" width="1" height="88.0" fill="#ef5060"/><rect x="316.24" y="574.0" width="2.7" height="10.0" fill="#ef5060"/><rect x="319.91" y="583.0" width="1" height="15.5" fill="#ef5060"/><rect x="319.06" y="584.0" width="2.7" height="14.0" fill="#ef5060"/><rect x="322.73" y="597.0" width="1" height="33.0" fill="#ef5060"/><rect x="321.88" y="598.0" width="2.7" height="12.0" fill="#ef5060"/><rect x="325.56" y="593.6" width="1" height="16.9" fill="#1ba188"/><rect x="324.71" y="594.6" width="2.7" height="15.4" fill="#1ba188"/><rect x="328.38" y="465.0" width="1" height="132.1" fill="#1ba188"/><rect x="327.53" y="515.0" width="2.7" height="79.6" fill="#1ba188"/><rect x="331.20" y="514.5" width="1" height="4.0" fill="#ef5060"/><rect x="330.35" y="515.0" width="2.7" height="3.0" fill="#ef5060"/><rect x="334.02" y="517.5" width="1" height="6.0" fill="#ef5060"/><rect x="333.17" y="518.0" width="2.7" height="3.0" fill="#ef5060"/><rect x="336.84" y="520.0" width="1" height="25.5" fill="#ef5060"/><rect x="335.99" y="521.0" width="2.7" height="22.0" fill="#ef5060"/><rect x="339.67" y="513.5" width="1" height="39.5" fill="#1ba188"/><rect x="338.82" y="514.0" width="2.7" height="29.0" fill="#1ba188"/><rect x="342.49" y="502.2" width="1" height="12.3" fill="#1ba188"/><rect x="341.64" y="504.7" width="2.7" height="9.3" fill="#1ba188"/><rect x="345.31" y="475.5" width="1" height="33.2" fill="#1ba188"/><rect x="344.46" y="476.0" width="2.7" height="28.7" fill="#1ba188"/><rect x="348.13" y="462.0" width="1" height="16.5" fill="#1ba188"/><rect x="347.28" y="463.0" width="2.7" height="13.0" fill="#1ba188"/><rect x="350.95" y="448.0" width="1" height="16.0" fill="#1ba188"/><rect x="350.10" y="450.0" width="2.7" height="13.0" fill="#1ba188"/><rect x="353.78" y="436.0" width="1" height="15.5" fill="#1ba188"/><rect x="352.93" y="439.0" width="2.7" height="11.0" fill="#1ba188"/><rect x="356.60" y="416.5" width="1" height="25.0" fill="#1ba188"/><rect x="355.75" y="418.0" width="2.7" height="21.0" fill="#1ba188"/><rect x="359.42" y="366.0" width="1" height="72.0" fill="#ef5060"/><rect x="358.57" y="418.0" width="2.7" height="18.0" fill="#ef5060"/><rect x="362.24" y="404.5" width="1" height="32.0" fill="#1ba188"/><rect x="361.39" y="405.0" width="2.7" height="31.0" fill="#1ba188"/><rect x="365.06" y="401.0" width="1" height="19.0" fill="#ef5060"/><rect x="364.21" y="405.0" width="2.7" height="13.0" fill="#ef5060"/><rect x="367.89" y="416.0" width="1" height="58.5" fill="#ef5060"/><rect x="367.04" y="418.0" width="2.7" height="54.5" fill="#ef5060"/><rect x="370.71" y="456.6" width="1" height="17.4" fill="#1ba188"/><rect x="369.86" y="458.6" width="2.7" height="13.9" fill="#1ba188"/><rect x="373.53" y="443.1" width="1" height="16.5" fill="#1ba188"/><rect x="372.68" y="443.6" width="2.7" height="15.0" fill="#1ba188"/><rect x="376.35" y="438.5" width="1" height="8.1" fill="#1ba188"/><rect x="375.50" y="439.0" width="2.7" height="4.6" fill="#1ba188"/><rect x="379.17" y="437.5" width="1" height="24.1" fill="#ef5060"/><rect x="378.32" y="439.0" width="2.7" height="19.6" fill="#ef5060"/><rect x="382.00" y="457.1" width="1" height="17.4" fill="#ef5060"/><rect x="381.15" y="458.6" width="2.7" height="13.9" fill="#ef5060"/><rect x="384.82" y="456.7" width="1" height="18.8" fill="#1ba188"/><rect x="383.97" y="460.7" width="2.7" height="11.8" fill="#1ba188"/><rect x="387.64" y="459.7" width="1" height="15.3" fill="#ef5060"/><rect x="386.79" y="460.7" width="2.7" height="11.8" fill="#ef5060"/><rect x="390.46" y="457.0" width="1" height="16.5" fill="#1ba188"/><rect x="389.61" y="457.5" width="2.7" height="15.0" fill="#1ba188"/><rect x="393.28" y="455.0" width="1" height="26.5" fill="#ef5060"/><rect x="392.43" y="457.5" width="2.7" height="22.5" fill="#ef5060"/><rect x="396.11" y="479.0" width="1" height="11.0" fill="#ef5060"/><rect x="395.26" y="480.0" width="2.7" height="7.0" fill="#ef5060"/><rect x="398.93" y="484.5" width="1" height="31.0" fill="#ef5060"/><rect x="398.08" y="487.0" width="2.7" height="28.0" fill="#ef5060"/><rect x="401.75" y="511.0" width="1" height="19.0" fill="#ef5060"/><rect x="400.90" y="515.0" width="2.7" height="4.0" fill="#ef5060"/><rect x="404.57" y="510.5" width="1" height="11.5" fill="#1ba188"/><rect x="403.72" y="512.0" width="2.7" height="7.0" fill="#1ba188"/><rect x="407.39" y="473.4" width="1" height="39.1" fill="#1ba188"/><rect x="406.54" y="477.4" width="2.7" height="34.6" fill="#1ba188"/><rect x="410.22" y="453.0" width="1" height="28.4" fill="#1ba188"/><rect x="409.37" y="456.0" width="2.7" height="21.4" fill="#1ba188"/><rect x="413.04" y="449.0" width="1" height="21.2" fill="#ef5060"/><rect x="412.19" y="456.0" width="2.7" height="11.7" fill="#ef5060"/><rect x="415.86" y="460.0" width="1" height="8.7" fill="#1ba188"/><rect x="415.01" y="461.5" width="2.7" height="6.2" fill="#1ba188"/><rect x="418.68" y="453.5" width="1" height="12.0" fill="#1ba188"/><rect x="417.83" y="455.0" width="2.7" height="6.5" fill="#1ba188"/><rect x="421.50" y="450.0" width="1" height="36.0" fill="#ef5060"/><rect x="420.65" y="455.0" width="2.7" height="21.5" fill="#ef5060"/><rect x="424.33" y="459.0" width="1" height="21.5" fill="#1ba188"/><rect x="423.48" y="461.5" width="2.7" height="15.0" fill="#1ba188"/><rect x="427.15" y="433.5" width="1" height="29.5" fill="#1ba188"/><rect x="426.30" y="436.0" width="2.7" height="25.5" fill="#1ba188"/><rect x="429.97" y="430.0" width="1" height="15.7" fill="#ef5060"/><rect x="429.12" y="436.0" width="2.7" height="8.7" fill="#ef5060"/><rect x="432.79" y="428.0" width="1" height="59.0" fill="#ef5060"/><rect x="431.94" y="444.7" width="2.7" height="37.1" fill="#ef5060"/><rect x="435.61" y="471.6" width="1" height="36.4" fill="#1ba188"/><rect x="434.76" y="475.6" width="2.7" height="6.2" fill="#1ba188"/><rect x="438.44" y="466.0" width="1" height="10.6" fill="#1ba188"/><rect x="437.59" y="470.0" width="2.7" height="5.6" fill="#1ba188"/><rect x="441.26" y="449.6" width="1" height="51.4" fill="#1ba188"/><rect x="440.41" y="453.6" width="2.7" height="16.4" fill="#1ba188"/><rect x="444.08" y="424.0" width="1" height="31.6" fill="#1ba188"/><rect x="443.23" y="428.0" width="2.7" height="25.6" fill="#1ba188"/><rect x="446.90" y="417.0" width="1" height="20.0" fill="#ef5060"/><rect x="446.05" y="428.0" width="2.7" height="5.0" fill="#ef5060"/><rect x="449.72" y="418.0" width="1" height="16.0" fill="#1ba188"/><rect x="448.87" y="419.0" width="2.7" height="14.0" fill="#1ba188"/><rect x="452.55" y="416.5" width="1" height="30.5" fill="#ef5060"/><rect x="451.70" y="419.0" width="2.7" height="15.0" fill="#ef5060"/><rect x="455.37" y="416.5" width="1" height="20.5" fill="#1ba188"/><rect x="454.52" y="418.0" width="2.7" height="16.0" fill="#1ba188"/><rect x="458.19" y="412.5" width="1" height="6.0" fill="#1ba188"/><rect x="457.34" y="413.0" width="2.7" height="5.0" fill="#1ba188"/><rect x="461.01" y="409.0" width="1" height="13.5" fill="#ef5060"/><rect x="460.16" y="413.0" width="2.7" height="8.0" fill="#ef5060"/><rect x="463.83" y="409.0" width="1" height="13.5" fill="#1ba188"/><rect x="462.98" y="411.0" width="2.7" height="10.0" fill="#1ba188"/><rect x="466.66" y="407.0" width="1" height="7.0" fill="#1ba188"/><rect x="465.81" y="408.0" width="2.7" height="3.0" fill="#1ba188"/><rect x="469.48" y="381.5" width="1" height="28.0" fill="#1ba188"/><rect x="468.63" y="384.0" width="2.7" height="24.0" fill="#1ba188"/><rect x="472.30" y="369.0" width="1" height="19.0" fill="#1ba188"/><rect x="471.45" y="371.0" width="2.7" height="13.0" fill="#1ba188"/><rect x="475.12" y="336.0" width="1" height="64.0" fill="#ef5060"/><rect x="474.27" y="371.0" width="2.7" height="27.5" fill="#ef5060"/><rect x="477.94" y="397.0" width="1" height="32.0" fill="#ef5060"/><rect x="477.09" y="398.5" width="2.7" height="30.0" fill="#ef5060"/><rect x="480.77" y="378.0" width="1" height="54.0" fill="#1ba188"/><rect x="479.92" y="379.0" width="2.7" height="49.5" fill="#1ba188"/><rect x="483.59" y="325.7" width="1" height="55.3" fill="#1ba188"/><rect x="482.74" y="326.7" width="2.7" height="52.3" fill="#1ba188"/><rect x="486.41" y="160.4" width="1" height="167.8" fill="#1ba188"/><rect x="485.56" y="312.0" width="2.7" height="14.7" fill="#1ba188"/><rect x="489.23" y="274.0" width="1" height="40.0" fill="#1ba188"/><rect x="488.38" y="298.0" width="2.7" height="14.0" fill="#1ba188"/><rect x="492.05" y="293.5" width="1" height="7.0" fill="#1ba188"/><rect x="491.20" y="296.0" width="2.7" height="2.0" fill="#1ba188"/><rect x="494.88" y="267.0" width="1" height="29.5" fill="#1ba188"/><rect x="494.03" y="271.0" width="2.7" height="25.0" fill="#1ba188"/><rect x="497.70" y="268.0" width="1" height="6.0" fill="#1ba188"/><rect x="496.85" y="270.0" width="2.7" height="1.0" fill="#1ba188"/><rect x="500.52" y="262.0" width="1" height="28.0" fill="#ef5060"/><rect x="499.67" y="270.0" width="2.7" height="16.0" fill="#ef5060"/><rect x="503.34" y="283.0" width="1" height="5.5" fill="#ef5060"/><rect x="502.49" y="286.0" width="2.7" height="2.0" fill="#ef5060"/><rect x="506.16" y="284.0" width="1" height="8.0" fill="#ef5060"/><rect x="505.31" y="288.0" width="2.7" height="1.0" fill="#ef5060"/><rect x="508.99" y="288.5" width="1" height="16.5" fill="#ef5060"/><rect x="508.14" y="289.0" width="2.7" height="14.0" fill="#ef5060"/><rect x="511.81" y="299.0" width="1" height="19.0" fill="#ef5060"/><rect x="510.96" y="303.0" width="2.7" height="12.0" fill="#ef5060"/><rect x="514.63" y="311.0" width="1" height="8.0" fill="#ef5060"/><rect x="513.78" y="315.0" width="2.7" height="3.0" fill="#ef5060"/><rect x="517.45" y="316.0" width="1" height="16.8" fill="#ef5060"/><rect x="516.60" y="318.0" width="2.7" height="13.8" fill="#ef5060"/><rect x="520.27" y="314.0" width="1" height="30.0" fill="#1ba188"/><rect x="519.42" y="323.5" width="2.7" height="8.3" fill="#1ba188"/><rect x="523.10" y="320.5" width="1" height="11.4" fill="#ef5060"/><rect x="522.25" y="323.5" width="2.7" height="6.9" fill="#ef5060"/><rect x="525.92" y="314.0" width="1" height="40.0" fill="#ef5060"/><rect x="525.07" y="330.4" width="2.7" height="1.0" fill="#ef5060"/><rect x="528.74" y="298.0" width="1" height="35.0" fill="#1ba188"/><rect x="527.89" y="302.7" width="2.7" height="28.3" fill="#1ba188"/><rect x="531.56" y="294.0" width="1" height="22.0" fill="#ef5060"/><rect x="530.71" y="302.7" width="2.7" height="8.3" fill="#ef5060"/><rect x="534.38" y="299.7" width="1" height="11.8" fill="#1ba188"/><rect x="533.53" y="302.7" width="2.7" height="8.3" fill="#1ba188"/><rect x="537.21" y="295.5" width="1" height="8.2" fill="#1ba188"/><rect x="536.36" y="298.5" width="2.7" height="4.2" fill="#1ba188"/><rect x="540.03" y="296.0" width="1" height="21.6" fill="#ef5060"/><rect x="539.18" y="298.5" width="2.7" height="18.1" fill="#ef5060"/><rect x="542.85" y="316.1" width="1" height="6.9" fill="#ef5060"/><rect x="542.00" y="316.6" width="2.7" height="5.4" fill="#ef5060"/><rect x="545.67" y="262.0" width="1" height="62.0" fill="#1ba188"/><rect x="544.82" y="272.9" width="2.7" height="49.1" fill="#1ba188"/><rect x="548.49" y="268.9" width="1" height="47.9" fill="#ef5060"/><rect x="547.64" y="272.9" width="2.7" height="40.9" fill="#ef5060"/><rect x="551.32" y="312.8" width="1" height="24.3" fill="#ef5060"/><rect x="550.47" y="313.8" width="2.7" height="20.8" fill="#ef5060"/><rect x="554.14" y="323.7" width="1" height="13.4" fill="#1ba188"/><rect x="553.29" y="327.7" width="2.7" height="6.9" fill="#1ba188"/><rect x="556.96" y="318.7" width="1" height="12.0" fill="#1ba188"/><rect x="556.11" y="320.7" width="2.7" height="7.0" fill="#1ba188"/><rect x="559.78" y="302.5" width="1" height="19.2" fill="#1ba188"/><rect x="558.93" y="304.0" width="2.7" height="16.7" fill="#1ba188"/><rect x="562.60" y="301.5" width="1" height="48.5" fill="#ef5060"/><rect x="561.75" y="304.0" width="2.7" height="43.0" fill="#ef5060"/><rect x="565.43" y="286.0" width="1" height="61.5" fill="#1ba188"/><rect x="564.58" y="291.6" width="2.7" height="55.4" fill="#1ba188"/><rect x="568.25" y="291.1" width="1" height="8.9" fill="#ef5060"/><rect x="567.40" y="291.6" width="2.7" height="4.4" fill="#ef5060"/><rect x="571.07" y="284.4" width="1" height="14.6" fill="#1ba188"/><rect x="570.22" y="287.4" width="2.7" height="8.6" fill="#1ba188"/><rect x="573.89" y="286.9" width="1" height="10.0" fill="#ef5060"/><rect x="573.04" y="287.4" width="2.7" height="7.0" fill="#ef5060"/><rect x="576.71" y="291.4" width="1" height="8.2" fill="#ef5060"/><rect x="575.86" y="294.4" width="2.7" height="4.2" fill="#ef5060"/><rect x="579.54" y="296.6" width="1" height="22.4" fill="#ef5060"/><rect x="578.69" y="298.6" width="2.7" height="4.1" fill="#ef5060"/><rect x="582.36" y="299.6" width="1" height="7.1" fill="#1ba188"/><rect x="581.51" y="300.6" width="2.7" height="2.1" fill="#1ba188"/><rect x="585.18" y="272.4" width="1" height="29.2" fill="#1ba188"/><rect x="584.33" y="276.4" width="2.7" height="24.2" fill="#1ba188"/><rect x="588.00" y="256.7" width="1" height="21.2" fill="#1ba188"/><rect x="587.15" y="257.2" width="2.7" height="19.2" fill="#1ba188"/><rect x="590.82" y="256.2" width="1" height="7.6" fill="#ef5060"/><rect x="589.97" y="257.2" width="2.7" height="5.1" fill="#ef5060"/><rect x="593.65" y="259.8" width="1" height="25.7" fill="#ef5060"/><rect x="592.80" y="262.3" width="2.7" height="22.2" fill="#ef5060"/><rect x="596.47" y="270.4" width="1" height="16.6" fill="#1ba188"/><rect x="595.62" y="274.4" width="2.7" height="10.1" fill="#1ba188"/><rect x="599.29" y="272.9" width="1" height="17.1" fill="#ef5060"/><rect x="598.44" y="274.4" width="2.7" height="14.1" fill="#ef5060"/><rect x="602.11" y="273.9" width="1" height="16.6" fill="#1ba188"/><rect x="601.26" y="276.4" width="2.7" height="12.1" fill="#1ba188"/><rect x="604.93" y="272.4" width="1" height="11.1" fill="#ef5060"/><rect x="604.08" y="276.4" width="2.7" height="6.1" fill="#ef5060"/><rect x="607.76" y="282.0" width="1" height="15.6" fill="#ef5060"/><rect x="606.91" y="282.5" width="2.7" height="12.1" fill="#ef5060"/><rect x="610.58" y="285.0" width="1" height="11.6" fill="#1ba188"/><rect x="609.73" y="286.5" width="2.7" height="8.1" fill="#1ba188"/><rect x="613.40" y="283.5" width="1" height="14.6" fill="#ef5060"/><rect x="612.55" y="286.5" width="2.7" height="9.1" fill="#ef5060"/><rect x="616.22" y="286.5" width="1" height="14.5" fill="#1ba188"/><rect x="615.37" y="290.5" width="2.7" height="5.1" fill="#1ba188"/><rect x="619.04" y="288.5" width="1" height="13.5" fill="#ef5060"/><rect x="618.19" y="290.5" width="2.7" height="5.1" fill="#ef5060"/><rect x="621.87" y="276.9" width="1" height="19.7" fill="#1ba188"/><rect x="621.02" y="279.4" width="2.7" height="16.2" fill="#1ba188"/><rect x="624.69" y="276.9" width="1" height="12.6" fill="#ef5060"/><rect x="623.84" y="279.4" width="2.7" height="9.1" fill="#ef5060"/><rect x="627.51" y="286.0" width="1" height="10.1" fill="#ef5060"/><rect x="626.66" y="288.5" width="2.7" height="5.1" fill="#ef5060"/><rect x="630.33" y="277.9" width="1" height="19.7" fill="#1ba188"/><rect x="629.48" y="278.4" width="2.7" height="15.2" fill="#1ba188"/><rect x="633.15" y="276.4" width="1" height="17.1" fill="#ef5060"/><rect x="632.30" y="278.4" width="2.7" height="11.1" fill="#ef5060"/><rect x="635.98" y="266.3" width="1" height="25.7" fill="#1ba188"/><rect x="635.13" y="267.3" width="2.7" height="22.2" fill="#1ba188"/><rect x="638.80" y="257.8" width="1" height="13.5" fill="#1ba188"/><rect x="637.95" y="258.3" width="2.7" height="9.0" fill="#1ba188"/><rect x="641.62" y="252.2" width="1" height="7.1" fill="#1ba188"/><rect x="640.77" y="256.2" width="2.7" height="2.1" fill="#1ba188"/><rect x="644.44" y="246.2" width="1" height="11.0" fill="#1ba188"/><rect x="643.59" y="247.2" width="2.7" height="9.0" fill="#1ba188"/><rect x="647.26" y="242.0" width="1" height="7.7" fill="#1ba188"/><rect x="646.41" y="244.0" width="2.7" height="3.2" fill="#1ba188"/><rect x="650.09" y="225.0" width="1" height="19.5" fill="#1ba188"/><rect x="649.24" y="228.0" width="2.7" height="16.0" fill="#1ba188"/><rect x="652.91" y="221.5" width="1" height="7.0" fill="#1ba188"/><rect x="652.06" y="224.0" width="2.7" height="4.0" fill="#1ba188"/><rect x="655.73" y="222.5" width="1" height="11.5" fill="#ef5060"/><rect x="654.88" y="224.0" width="2.7" height="7.0" fill="#ef5060"/><rect x="658.55" y="228.5" width="1" height="6.0" fill="#ef5060"/><rect x="657.70" y="231.0" width="2.7" height="1.0" fill="#ef5060"/><rect x="661.37" y="204.0" width="1" height="30.0" fill="#1ba188"/><rect x="660.52" y="206.5" width="2.7" height="25.5" fill="#1ba188"/><rect x="664.20" y="176.0" width="1" height="34.5" fill="#1ba188"/><rect x="663.35" y="197.0" width="2.7" height="9.5" fill="#1ba188"/><rect x="667.02" y="196.5" width="1" height="12.5" fill="#ef5060"/><rect x="666.17" y="197.0" width="2.7" height="9.5" fill="#ef5060"/><rect x="669.84" y="206.0" width="1" height="5.0" fill="#ef5060"/><rect x="668.99" y="206.5" width="2.7" height="3.5" fill="#ef5060"/><rect x="672.66" y="201.7" width="1" height="9.8" fill="#1ba188"/><rect x="671.81" y="202.7" width="2.7" height="7.3" fill="#1ba188"/><rect x="675.48" y="188.0" width="1" height="18.7" fill="#1ba188"/><rect x="674.63" y="188.5" width="2.7" height="14.2" fill="#1ba188"/><rect x="678.31" y="188.0" width="1" height="19.1" fill="#ef5060"/><rect x="677.46" y="188.5" width="2.7" height="16.1" fill="#ef5060"/><rect x="681.13" y="189.3" width="1" height="17.8" fill="#1ba188"/><rect x="680.28" y="191.3" width="2.7" height="13.3" fill="#1ba188"/><rect x="683.95" y="188.9" width="1" height="6.4" fill="#1ba188"/><rect x="683.10" y="189.4" width="2.7" height="1.9" fill="#1ba188"/><rect x="686.77" y="181.4" width="1" height="10.0" fill="#1ba188"/><rect x="685.92" y="181.9" width="2.7" height="7.5" fill="#1ba188"/><rect x="689.59" y="170.0" width="1" height="14.4" fill="#1ba188"/><rect x="688.74" y="174.3" width="2.7" height="7.6" fill="#1ba188"/><rect x="692.42" y="171.8" width="1" height="8.7" fill="#ef5060"/><rect x="691.57" y="174.3" width="2.7" height="3.7" fill="#ef5060"/><rect x="695.24" y="175.5" width="1" height="9.3" fill="#ef5060"/><rect x="694.39" y="178.0" width="2.7" height="5.8" fill="#ef5060"/><rect x="698.06" y="180.8" width="1" height="10.1" fill="#ef5060"/><rect x="697.21" y="183.8" width="2.7" height="5.6" fill="#ef5060"/><rect x="700.88" y="179.9" width="1" height="12.0" fill="#1ba188"/><rect x="700.03" y="181.9" width="2.7" height="7.5" fill="#1ba188"/><rect x="703.70" y="153.8" width="1" height="32.1" fill="#1ba188"/><rect x="702.85" y="156.3" width="2.7" height="25.6" fill="#1ba188"/><rect x="706.53" y="148.0" width="1" height="10.8" fill="#1ba188"/><rect x="705.68" y="150.7" width="2.7" height="5.6" fill="#1ba188"/><rect x="709.35" y="149.7" width="1" height="10.6" fill="#ef5060"/><rect x="708.50" y="150.7" width="2.7" height="6.6" fill="#ef5060"/><rect x="712.17" y="146.3" width="1" height="12.5" fill="#1ba188"/><rect x="711.32" y="148.8" width="2.7" height="8.5" fill="#1ba188"/><rect x="714.99" y="146.3" width="1" height="6.7" fill="#ef5060"/><rect x="714.14" y="148.8" width="2.7" height="3.2" fill="#ef5060"/><rect x="717.81" y="148.0" width="1" height="24.0" fill="#ef5060"/><rect x="716.96" y="152.0" width="2.7" height="11.6" fill="#ef5060"/><rect x="720.64" y="162.0" width="1" height="10.0" fill="#ef5060"/><rect x="719.79" y="163.6" width="2.7" height="4.4" fill="#ef5060"/><rect x="723.46" y="158.5" width="1" height="11.5" fill="#1ba188"/><rect x="722.61" y="159.0" width="2.7" height="9.0" fill="#1ba188"/><rect x="726.28" y="153.6" width="1" height="6.9" fill="#1ba188"/><rect x="725.43" y="155.6" width="2.7" height="3.4" fill="#1ba188"/><rect x="729.10" y="142.5" width="1" height="16.1" fill="#1ba188"/><rect x="728.25" y="143.0" width="2.7" height="12.6" fill="#1ba188"/><rect x="731.92" y="132.0" width="1" height="13.0" fill="#1ba188"/><rect x="731.07" y="141.0" width="2.7" height="2.0" fill="#1ba188"/><rect x="734.75" y="132.0" width="1" height="10.0" fill="#1ba188"/><rect x="733.90" y="137.5" width="2.7" height="3.5" fill="#1ba188"/><rect x="737.57" y="130.0" width="1" height="9.0" fill="#1ba188"/><rect x="736.72" y="136.0" width="2.7" height="1.5" fill="#1ba188"/><rect x="740.39" y="132.0" width="1" height="10.5" fill="#ef5060"/><rect x="739.54" y="136.0" width="2.7" height="6.0" fill="#ef5060"/><rect x="743.21" y="134.6" width="1" height="15.4" fill="#1ba188"/><rect x="742.36" y="138.6" width="2.7" height="3.4" fill="#1ba188"/><rect x="746.03" y="117.4" width="1" height="24.2" fill="#1ba188"/><rect x="745.18" y="120.4" width="2.7" height="18.2" fill="#1ba188"/><rect x="748.86" y="112.0" width="1" height="9.9" fill="#1ba188"/><rect x="748.01" y="115.0" width="2.7" height="5.4" fill="#1ba188"/><rect x="751.68" y="114.0" width="1" height="42.5" fill="#ef5060"/><rect x="750.83" y="115.0" width="2.7" height="40.0" fill="#ef5060"/><rect x="754.50" y="154.0" width="1" height="53.0" fill="#ef5060"/><rect x="753.65" y="155.0" width="2.7" height="50.0" fill="#ef5060"/><rect x="757.32" y="204.0" width="1" height="34.0" fill="#ef5060"/><rect x="756.47" y="205.0" width="2.7" height="30.0" fill="#ef5060"/><rect x="760.14" y="199.0" width="1" height="44.0" fill="#1ba188"/><rect x="759.29" y="215.0" width="2.7" height="20.0" fill="#1ba188"/><rect x="762.97" y="213.0" width="1" height="43.0" fill="#ef5060"/><rect x="762.12" y="215.0" width="2.7" height="24.0" fill="#ef5060"/><rect x="765.79" y="236.0" width="1" height="28.7" fill="#ef5060"/><rect x="764.94" y="239.0" width="2.7" height="21.7" fill="#ef5060"/><rect x="768.61" y="239.0" width="1" height="34.0" fill="#1ba188"/><rect x="767.76" y="240.0" width="2.7" height="20.7" fill="#1ba188"/><rect x="771.43" y="205.4" width="1" height="36.6" fill="#1ba188"/><rect x="770.58" y="208.4" width="2.7" height="31.6" fill="#1ba188"/><rect x="774.25" y="202.5" width="1" height="25.5" fill="#1ba188"/><rect x="773.40" y="205.0" width="2.7" height="3.4" fill="#1ba188"/><rect x="777.08" y="186.5" width="1" height="20.5" fill="#1ba188"/><rect x="776.23" y="188.0" width="2.7" height="17.0" fill="#1ba188"/><rect x="779.90" y="182.5" width="1" height="7.0" fill="#1ba188"/><rect x="779.05" y="183.5" width="2.7" height="4.5" fill="#1ba188"/><rect x="782.72" y="179.5" width="1" height="4.5" fill="#1ba188"/><rect x="781.87" y="181.0" width="2.7" height="2.5" fill="#1ba188"/><rect x="785.54" y="169.2" width="1" height="13.3" fill="#1ba188"/><rect x="784.69" y="172.2" width="2.7" height="8.8" fill="#1ba188"/><rect x="788.36" y="162.5" width="1" height="11.2" fill="#1ba188"/><rect x="787.51" y="163.0" width="2.7" height="9.2" fill="#1ba188"/><rect x="791.19" y="160.5" width="1" height="20.5" fill="#ef5060"/><rect x="790.34" y="163.0" width="2.7" height="13.8" fill="#ef5060"/><rect x="794.01" y="170.0" width="1" height="28.0" fill="#1ba188"/><rect x="793.16" y="172.0" width="2.7" height="4.8" fill="#1ba188"/><rect x="796.83" y="169.5" width="1" height="4.5" fill="#1ba188"/><rect x="795.98" y="170.0" width="2.7" height="2.0" fill="#1ba188"/><rect x="799.65" y="159.4" width="1" height="13.1" fill="#1ba188"/><rect x="798.80" y="160.9" width="2.7" height="9.1" fill="#1ba188"/><rect x="802.47" y="157.2" width="1" height="5.2" fill="#1ba188"/><rect x="801.62" y="159.7" width="2.7" height="1.2" fill="#1ba188"/><rect x="805.30" y="157.2" width="1" height="24.6" fill="#ef5060"/><rect x="804.45" y="159.7" width="2.7" height="21.6" fill="#ef5060"/><rect x="808.12" y="180.8" width="1" height="11.2" fill="#ef5060"/><rect x="807.27" y="181.3" width="2.7" height="6.7" fill="#ef5060"/><rect x="810.94" y="187.0" width="1" height="13.0" fill="#ef5060"/><rect x="810.09" y="188.0" width="2.7" height="1.0" fill="#ef5060"/><rect x="813.76" y="160.4" width="1" height="30.1" fill="#1ba188"/><rect x="812.91" y="160.9" width="2.7" height="28.1" fill="#1ba188"/><rect x="816.58" y="147.0" width="1" height="14.4" fill="#1ba188"/><rect x="815.73" y="159.0" width="2.7" height="1.9" fill="#1ba188"/><rect x="819.41" y="147.0" width="1" height="13.0" fill="#1ba188"/><rect x="818.56" y="155.0" width="2.7" height="4.0" fill="#1ba188"/><rect x="822.23" y="153.5" width="1" height="15.9" fill="#ef5060"/><rect x="821.38" y="155.0" width="2.7" height="10.4" fill="#ef5060"/><rect x="825.05" y="164.4" width="1" height="12.6" fill="#ef5060"/><rect x="824.20" y="165.4" width="2.7" height="4.6" fill="#ef5060"/><rect x="827.87" y="164.5" width="1" height="16.5" fill="#1ba188"/><rect x="827.02" y="166.5" width="2.7" height="3.5" fill="#1ba188"/><rect x="830.69" y="147.6" width="1" height="22.9" fill="#1ba188"/><rect x="829.84" y="150.6" width="2.7" height="15.9" fill="#1ba188"/><rect x="833.52" y="143.5" width="1" height="9.1" fill="#1ba188"/><rect x="832.67" y="145.0" width="2.7" height="5.6" fill="#1ba188"/><rect x="836.34" y="143.0" width="1" height="9.0" fill="#ef5060"/><rect x="835.49" y="145.0" width="2.7" height="4.5" fill="#ef5060"/><rect x="839.16" y="143.0" width="1" height="13.0" fill="#ef5060"/><rect x="838.31" y="149.5" width="2.7" height="1.1" fill="#ef5060"/><rect x="841.98" y="146.0" width="1" height="7.6" fill="#1ba188"/><rect x="841.13" y="148.0" width="2.7" height="2.6" fill="#1ba188"/><rect x="844.80" y="146.5" width="1" height="27.3" fill="#ef5060"/><rect x="843.95" y="148.0" width="2.7" height="25.3" fill="#ef5060"/><rect x="847.63" y="166.2" width="1" height="20.8" fill="#1ba188"/><rect x="846.78" y="167.7" width="2.7" height="5.6" fill="#1ba188"/><rect x="850.45" y="158.0" width="1" height="12.7" fill="#1ba188"/><rect x="849.60" y="162.0" width="2.7" height="5.7" fill="#1ba188"/><rect x="853.27" y="142.8" width="1" height="21.2" fill="#1ba188"/><rect x="852.42" y="143.8" width="2.7" height="18.2" fill="#1ba188"/><rect x="856.09" y="136.5" width="1" height="8.8" fill="#1ba188"/><rect x="855.24" y="137.0" width="2.7" height="6.8" fill="#1ba188"/><rect x="858.91" y="136.5" width="1" height="11.2" fill="#ef5060"/><rect x="858.06" y="137.0" width="2.7" height="7.7" fill="#ef5060"/><rect x="861.74" y="136.3" width="1" height="16.7" fill="#1ba188"/><rect x="860.89" y="136.8" width="2.7" height="7.9" fill="#1ba188"/><rect x="864.56" y="135.3" width="1" height="6.2" fill="#ef5060"/><rect x="863.71" y="136.8" width="2.7" height="4.2" fill="#ef5060"/><rect x="867.38" y="130.0" width="1" height="15.0" fill="#1ba188"/><rect x="866.53" y="138.0" width="2.7" height="3.0" fill="#1ba188"/><rect x="870.20" y="137.0" width="1" height="5.9" fill="#ef5060"/><rect x="869.35" y="138.0" width="2.7" height="4.4" fill="#ef5060"/><rect x="873.02" y="123.9" width="1" height="22.5" fill="#1ba188"/><rect x="872.17" y="125.4" width="2.7" height="17.0" fill="#1ba188"/><rect x="875.85" y="107.9" width="1" height="19.5" fill="#1ba188"/><rect x="875.00" y="108.4" width="2.7" height="17.0" fill="#1ba188"/><rect x="878.67" y="89.6" width="1" height="20.3" fill="#1ba188"/><rect x="877.82" y="100.4" width="2.7" height="8.0" fill="#1ba188"/><rect x="881.49" y="97.9" width="1" height="20.4" fill="#ef5060"/><rect x="880.64" y="100.4" width="2.7" height="15.9" fill="#ef5060"/><rect x="884.31" y="114.8" width="1" height="13.2" fill="#ef5060"/><rect x="883.46" y="116.3" width="2.7" height="2.3" fill="#ef5060"/><rect x="887.13" y="98.3" width="1" height="20.8" fill="#1ba188"/><rect x="886.28" y="99.3" width="2.7" height="19.3" fill="#1ba188"/><rect x="889.96" y="88.9" width="1" height="13.4" fill="#1ba188"/><rect x="889.11" y="91.4" width="2.7" height="7.9" fill="#1ba188"/><rect x="892.78" y="85.0" width="1" height="14.8" fill="#ef5060"/><rect x="891.93" y="91.4" width="2.7" height="7.9" fill="#ef5060"/><rect x="895.60" y="98.3" width="1" height="13.8" fill="#ef5060"/><rect x="894.75" y="99.3" width="2.7" height="11.3" fill="#ef5060"/><rect x="898.42" y="110.1" width="1" height="7.2" fill="#ef5060"/><rect x="897.57" y="110.6" width="2.7" height="5.7" fill="#ef5060"/><rect x="901.24" y="115.3" width="1" height="9.2" fill="#ef5060"/><rect x="900.39" y="116.3" width="2.7" height="6.7" fill="#ef5060"/><rect x="904.07" y="107.6" width="1" height="16.9" fill="#1ba188"/><rect x="903.22" y="110.6" width="2.7" height="12.4" fill="#1ba188"/><rect x="906.89" y="108.1" width="1" height="18.9" fill="#ef5060"/><rect x="906.04" y="110.6" width="2.7" height="12.4" fill="#ef5060"/><rect x="909.71" y="114.0" width="1" height="10.5" fill="#1ba188"/><rect x="908.86" y="115.0" width="2.7" height="8.0" fill="#1ba188"/><rect x="912.53" y="106.4" width="1" height="11.1" fill="#1ba188"/><rect x="911.68" y="108.4" width="2.7" height="6.6" fill="#1ba188"/><rect x="915.35" y="105.4" width="1" height="8.6" fill="#ef5060"/><rect x="914.50" y="108.4" width="2.7" height="4.6" fill="#ef5060"/><rect x="918.18" y="111.5" width="1" height="9.7" fill="#ef5060"/><rect x="917.33" y="113.0" width="2.7" height="6.7" fill="#ef5060"/><rect x="921.00" y="115.7" width="1" height="9.6" fill="#ef5060"/><rect x="920.15" y="119.7" width="2.7" height="5.1" fill="#ef5060"/><rect x="923.82" y="123.3" width="1" height="5.8" fill="#ef5060"/><rect x="922.97" y="124.8" width="2.7" height="3.8" fill="#ef5060"/><rect x="926.64" y="128.1" width="1" height="14.4" fill="#ef5060"/><rect x="925.79" y="128.6" width="2.7" height="13.4" fill="#ef5060"/><rect x="929.46" y="139.0" width="1" height="10.5" fill="#ef5060"/><rect x="928.61" y="142.0" width="2.7" height="5.0" fill="#ef5060"/><rect x="932.29" y="144.5" width="1" height="27.0" fill="#ef5060"/><rect x="931.44" y="147.0" width="2.7" height="1.0" fill="#ef5060"/><rect x="935.11" y="132.0" width="1" height="28.0" fill="#1ba188"/><rect x="934.26" y="146.0" width="2.7" height="2.0" fill="#1ba188"/><rect x="937.93" y="145.0" width="1" height="6.0" fill="#ef5060"/><rect x="937.08" y="146.0" width="2.7" height="3.0" fill="#ef5060"/><rect x="940.75" y="141.0" width="1" height="15.0" fill="#ef5060"/><rect x="939.90" y="149.0" width="2.7" height="4.0" fill="#ef5060"/><rect x="943.57" y="149.0" width="1" height="41.5" fill="#ef5060"/><rect x="942.72" y="153.0" width="2.7" height="34.5" fill="#ef5060"/><rect x="946.40" y="183.0" width="1" height="43.0" fill="#ef5060"/><rect x="945.55" y="187.5" width="2.7" height="35.5" fill="#ef5060"/><rect x="949.22" y="215.0" width="1" height="45.0" fill="#ef5060"/><rect x="948.37" y="223.0" width="2.7" height="34.5" fill="#ef5060"/><rect x="952.04" y="253.5" width="1" height="44.0" fill="#ef5060"/><rect x="951.19" y="257.5" width="2.7" height="19.5" fill="#ef5060"/><ellipse cx="297.6" cy="460.6" rx="65.9" ry="192.3" transform="rotate(-9 297.6 460.6)" fill="rgba(149,152,161,0.4)" stroke="#9a9da6" stroke-width="1.2"/><ellipse cx="928.3" cy="199" rx="100.2" ry="130.4" transform="rotate(-29.7 928.3 199)" fill="rgba(149,152,161,0.4)" stroke="#9a9da6" stroke-width="1.2"/></g><line x1="1130.5" y1="26" x2="1130.5" y2="760" stroke="#2a2e39" stroke-width="1"/><line x1="10" y1="735.5" x2="1190" y2="735.5" stroke="#2a2e39" stroke-width="1"/><text x="1138.7" y="91.3" textLength="33.5" lengthAdjust="spacingAndGlyphs" fill="#b2b5be" stroke="#b2b5be" stroke-width="0.3" text-anchor="start" style="font-size:12px;font-weight:normal">66.00%</text><text x="1138.7" y="135.6" textLength="33.5" lengthAdjust="spacingAndGlyphs" fill="#b2b5be" stroke="#b2b5be" stroke-width="0.3" text-anchor="start" style="font-size:12px;font-weight:normal">65.00%</text><text x="1138.7" y="180.5" textLength="33.5" lengthAdjust="spacingAndGlyphs" fill="#b2b5be" stroke="#b2b5be" stroke-width="0.3" text-anchor="start" style="font-size:12px;font-weight:normal">64.00%</text><text x="1138.7" y="226.2" textLength="33.5" lengthAdjust="spacingAndGlyphs" fill="#b2b5be" stroke="#b2b5be" stroke-width="0.3" text-anchor="start" style="font-size:12px;font-weight:normal">63.00%</text><text x="1138.7" y="272.6" textLength="33.5" lengthAdjust="spacingAndGlyphs" fill="#b2b5be" stroke="#b2b5be" stroke-width="0.3" text-anchor="start" style="font-size:12px;font-weight:normal">62.00%</text><text x="1138.7" y="319.8" textLength="33.5" lengthAdjust="spacingAndGlyphs" fill="#b2b5be" stroke="#b2b5be" stroke-width="0.3" text-anchor="start" style="font-size:12px;font-weight:normal">61.00%</text><text x="1138.7" y="367.7" textLength="33.5" lengthAdjust="spacingAndGlyphs" fill="#b2b5be" stroke="#b2b5be" stroke-width="0.3" text-anchor="start" style="font-size:12px;font-weight:normal">60.00%</text><text x="1138.7" y="416.4" textLength="33.5" lengthAdjust="spacingAndGlyphs" fill="#b2b5be" stroke="#b2b5be" stroke-width="0.3" text-anchor="start" style="font-size:12px;font-weight:normal">59.00%</text><text x="1138.7" y="466.0" textLength="33.5" lengthAdjust="spacingAndGlyphs" fill="#b2b5be" stroke="#b2b5be" stroke-width="0.3" text-anchor="start" style="font-size:12px;font-weight:normal">58.00%</text><text x="1138.7" y="516.4" textLength="33.5" lengthAdjust="spacingAndGlyphs" fill="#b2b5be" stroke="#b2b5be" stroke-width="0.3" text-anchor="start" style="font-size:12px;font-weight:normal">57.00%</text><text x="1138.7" y="547.1" textLength="33.5" lengthAdjust="spacingAndGlyphs" fill="#b2b5be" stroke="#b2b5be" stroke-width="0.3" text-anchor="start" style="font-size:12px;font-weight:normal">56.40%</text><text x="1138.7" y="578.1" textLength="33.5" lengthAdjust="spacingAndGlyphs" fill="#b2b5be" stroke="#b2b5be" stroke-width="0.3" text-anchor="start" style="font-size:12px;font-weight:normal">55.80%</text><text x="1138.7" y="609.5" textLength="33.5" lengthAdjust="spacingAndGlyphs" fill="#b2b5be" stroke="#b2b5be" stroke-width="0.3" text-anchor="start" style="font-size:12px;font-weight:normal">55.20%</text><text x="1138.7" y="641.2" textLength="33.5" lengthAdjust="spacingAndGlyphs" fill="#b2b5be" stroke="#b2b5be" stroke-width="0.3" text-anchor="start" style="font-size:12px;font-weight:normal">54.60%</text><text x="1138.7" y="673.2" textLength="33.5" lengthAdjust="spacingAndGlyphs" fill="#b2b5be" stroke="#b2b5be" stroke-width="0.3" text-anchor="start" style="font-size:12px;font-weight:normal">54.00%</text><text x="1138.7" y="702.9" textLength="33.5" lengthAdjust="spacingAndGlyphs" fill="#b2b5be" stroke="#b2b5be" stroke-width="0.3" text-anchor="start" style="font-size:12px;font-weight:normal">53.45%</text><text x="1138.7" y="732.9" textLength="33.5" lengthAdjust="spacingAndGlyphs" fill="#b2b5be" stroke="#b2b5be" stroke-width="0.3" text-anchor="start" style="font-size:12px;font-weight:normal">52.90%</text><text x="39.6" y="752" textLength="18.8" lengthAdjust="spacingAndGlyphs" fill="#b2b5be" stroke="#b2b5be" stroke-width="0.3" text-anchor="start" style="font-size:11.5px;font-weight:normal">Sep</text><text x="124.6" y="752" textLength="18.3" lengthAdjust="spacingAndGlyphs" fill="#b2b5be" stroke="#b2b5be" stroke-width="0.3" text-anchor="start" style="font-size:11.5px;font-weight:normal">Oct</text><text x="212.1" y="752" textLength="18.8" lengthAdjust="spacingAndGlyphs" fill="#b2b5be" stroke="#b2b5be" stroke-width="0.3" text-anchor="start" style="font-size:11.5px;font-weight:normal">Nov</text><text x="296.40000000000003" y="752" textLength="19.0" lengthAdjust="spacingAndGlyphs" fill="#b2b5be" stroke="#b2b5be" stroke-width="0.3" text-anchor="start" style="font-size:11.5px;font-weight:normal">Dec</text><text x="380.5" y="752" textLength="25.8" lengthAdjust="spacingAndGlyphs" fill="#b2b5be" stroke="#b2b5be" stroke-width="0.7" text-anchor="start" style="font-size:11.5px;font-weight:normal">2025</text><text x="471.40000000000003" y="752" textLength="19.0" lengthAdjust="spacingAndGlyphs" fill="#b2b5be" stroke="#b2b5be" stroke-width="0.3" text-anchor="start" style="font-size:11.5px;font-weight:normal">Feb</text><text x="550.2" y="752" textLength="19.2" lengthAdjust="spacingAndGlyphs" fill="#b2b5be" stroke="#b2b5be" stroke-width="0.3" text-anchor="start" style="font-size:11.5px;font-weight:normal">Mar</text><text x="638.4" y="752" textLength="17.6" lengthAdjust="spacingAndGlyphs" fill="#b2b5be" stroke="#b2b5be" stroke-width="0.3" text-anchor="start" style="font-size:11.5px;font-weight:normal">Apr</text><text x="721.6" y="752" textLength="20.3" lengthAdjust="spacingAndGlyphs" fill="#b2b5be" stroke="#b2b5be" stroke-width="0.3" text-anchor="start" style="font-size:11.5px;font-weight:normal">May</text><text x="810.5" y="752" textLength="18.5" lengthAdjust="spacingAndGlyphs" fill="#b2b5be" stroke="#b2b5be" stroke-width="0.3" text-anchor="start" style="font-size:11.5px;font-weight:normal">Jun</text><text x="896.3000000000001" y="752" textLength="15.100000000000001" lengthAdjust="spacingAndGlyphs" fill="#b2b5be" stroke="#b2b5be" stroke-width="0.3" text-anchor="start" style="font-size:11.5px;font-weight:normal">Jul</text><text x="981.6" y="752" textLength="19.8" lengthAdjust="spacingAndGlyphs" fill="#b2b5be" stroke="#b2b5be" stroke-width="0.3" text-anchor="start" style="font-size:11.5px;font-weight:normal">Aug</text><text x="1069.6" y="752" textLength="18.8" lengthAdjust="spacingAndGlyphs" fill="#b2b5be" stroke="#b2b5be" stroke-width="0.3" text-anchor="start" style="font-size:11.5px;font-weight:normal">Sep</text><rect x="1092.5" y="269.2" width="37.3" height="15.1" rx="1.5" fill="#f0535e"/><text x="1096.5" y="280.8" textLength="30.4" lengthAdjust="spacingAndGlyphs" fill="#ffffff" stroke="#ffffff" stroke-width="0.3" text-anchor="start" style="font-size:11px;font-weight:normal">BTC.D</text><rect x="1131" y="269.2" width="54.8" height="27.9" rx="1.5" fill="#f0535e"/><text x="1138.6" y="280.8" textLength="33.2" lengthAdjust="spacingAndGlyphs" fill="#ffffff" stroke="#ffffff" stroke-width="0.3" text-anchor="start" style="font-size:11px;font-weight:normal">61.82%</text><text x="1138.6" y="293.3" textLength="41.9" lengthAdjust="spacingAndGlyphs" fill="#ffffff" stroke="#ffffff" stroke-width="0.3" text-anchor="start" style="font-size:11px;font-weight:normal">08:02:42</text><rect x="1130.8" y="651.1" width="47.9" height="14.9" rx="0.5" fill="#ee5252"/><text x="1138.1" y="662.8" textLength="35.8" lengthAdjust="spacingAndGlyphs" fill="#ffffff" text-anchor="start" style="font-size:11px;font-weight:bold">77.93 B</text><rect x="1134.2" y="28.6" width="52.8" height="23.3" rx="4.5" fill="#0e0e0e" stroke="#3a3b40" stroke-width="1.6"/><text x="1141.4" y="45.4" textLength="8" lengthAdjust="spacingAndGlyphs" fill="#d1d4dc" stroke="#d1d4dc" stroke-width="0.2" text-anchor="start" style="font-size:11px;font-weight:normal">%</text><text x="16.5" y="41.9" textLength="240.2" lengthAdjust="spacingAndGlyphs" fill="#b8bbc3" stroke="#b8bbc3" stroke-width="0.4" text-anchor="start" style="font-size:10.6px;font-weight:normal">Market Cap BTC Dominance, % · 1D · CRYPTOCAP</text><text x="264" y="41.9" textLength="41.5" lengthAdjust="spacingAndGlyphs" stroke-width="0.4" style="font-size:10.6px"><tspan fill="#b8bbc3" stroke="#b8bbc3">O</tspan><tspan fill="#f0535e" stroke="#f0535e">62.25%</tspan></text><text x="311.7" y="41.9" textLength="41" lengthAdjust="spacingAndGlyphs" stroke-width="0.4" style="font-size:10.6px"><tspan fill="#b8bbc3" stroke="#b8bbc3">H</tspan><tspan fill="#f0535e" stroke="#f0535e">62.25%</tspan></text><text x="359.2" y="41.9" textLength="39.5" lengthAdjust="spacingAndGlyphs" stroke-width="0.4" style="font-size:10.6px"><tspan fill="#b8bbc3" stroke="#b8bbc3">L</tspan><tspan fill="#f0535e" stroke="#f0535e">61.37%</tspan></text><text x="405.3" y="41.9" textLength="41.3" lengthAdjust="spacingAndGlyphs" stroke-width="0.4" style="font-size:10.6px"><tspan fill="#b8bbc3" stroke="#b8bbc3">C</tspan><tspan fill="#f0535e" stroke="#f0535e">61.82%</tspan></text><text x="452.5" y="41.9" textLength="71.5" lengthAdjust="spacingAndGlyphs" fill="#f0535e" stroke="#f0535e" stroke-width="0.4" text-anchor="start" style="font-size:10.6px;font-weight:normal">−0.43 (−0.69%)</text><text x="8.9" y="17.3" textLength="374.6" lengthAdjust="spacingAndGlyphs" fill="#e2e2e2" stroke="#e2e2e2" stroke-width="0.55" text-anchor="start" style="font-size:11px;font-weight:normal">DaanCryptoTrades created with TradingView.com, Jul 18, 2025 17:57 UTC+2</text><g transform="translate(9.2,770.2) scale(0.51,0.483)" fill="#e6e6e6"><path d="M14 22H7V11H0V4h14v18zM28 22h-8l7.5-18h8L28 22z"/><circle cx="20" cy="8" r="4"/></g><text x="31.4" y="780.8" textLength="63.8" lengthAdjust="spacingAndGlyphs" fill="#e6e6e6" stroke="#e6e6e6" stroke-width="0.5" text-anchor="start" style="font-size:11px;font-weight:normal">TradingView</text><rect x="10" y="679" width="3" height="9.3" fill="#ffffff"/><text x="14.3" y="688.3" textLength="9.9" lengthAdjust="spacingAndGlyphs" fill="#ffffff" text-anchor="start" style="font-size:16.8px;font-weight:bold">n</text><circle cx="952.5" cy="723.2" r="8.3" fill="#1a1226" stroke="#a77cd6" stroke-width="1.3"/><path d="M955.7 718.5 L949.8 724.7 L952.6 724.7 L949.9 728.7 L956.1 722.1 L953.3 722.1 Z" fill="#a458d8"/><circle cx="958.5" cy="717.5" r="2.7" fill="#ee3344" stroke="#1a1226" stroke-width="0.6"/></svg>
</body></html>
